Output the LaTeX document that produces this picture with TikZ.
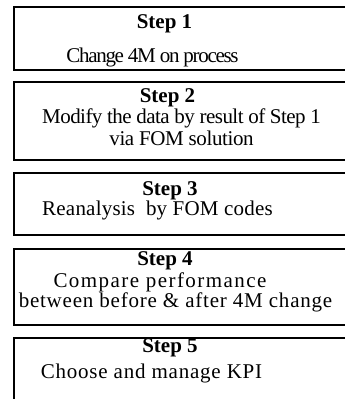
\documentclass[tikz,border=0pt]{standalone}
\usepackage{fontspec}
\setmainfont{Liberation Serif}
\usetikzlibrary{positioning}
\newcommand{\tracked}[2]{{\addfontfeatures{LetterSpace=#1}#2}}

\begin{document}
\begin{tikzpicture}[x=1pt,y=-1pt,font=\fontsize{21}{24}\selectfont]
  \tikzstyle{stepbox}=[draw,line width=1.5pt,rectangle,anchor=north west,
                       minimum width=360pt,inner sep=0pt]
  \tikzstyle{title}=[anchor=base,inner sep=0pt,font=\fontsize{21}{24}\selectfont\bfseries]
  \tikzstyle{body}=[anchor=base,inner sep=0pt]

  \useasboundingbox (0,0) rectangle (345,399);
  \clip (0,0) rectangle (345,399);

  % boxes
  \node[stepbox,minimum height=63pt] (B1) at (13,6)   {};
  \node[stepbox,minimum height=78pt] (B2) at (13,81)  {};
  \node[stepbox,minimum height=62pt] (B3) at (13,172) {};
  \node[stepbox,minimum height=76pt] (B4) at (13,248) {};
  \node[stepbox,minimum height=90pt] (B5) at (13,337) {};

  % texts
  \node[title] (T1) at (164.5,28) {Step 1};
  \node[body]  (L1) at (152.5,62) {\tracked{-6.2}{Change 4M on process}};

  \node[title] (T2) at (167.5,102) {Step 2};
  \node[body]  (L2a) at (181.5,123) {\tracked{-2.6}{Modify the data by result of Step 1}};
  \node[body]  (L2b) at (181.5,145) {\tracked{-1.9}{via FOM solution}};

  \node[title] (T3) at (170,195) {Step 3};
  \node[body]  (L3) at (157.5,215) {\tracked{1.0}{Reanalysis\ \ by FOM codes}};

  \node[title] (T4) at (165,265) {Step 4};
  \node[body]  (L4a) at (160,287) {\tracked{6.9}{Compare performance}};
  \node[body]  (L4b) at (175.5,307) {\tracked{3.7}{between before \& after 4M change}};

  \node[title] (T5) at (170,352) {Step 5};
  \node[body]  (L5) at (151.5,378) {\tracked{3.7}{Choose and manage KPI}};
\end{tikzpicture}
\end{document}
